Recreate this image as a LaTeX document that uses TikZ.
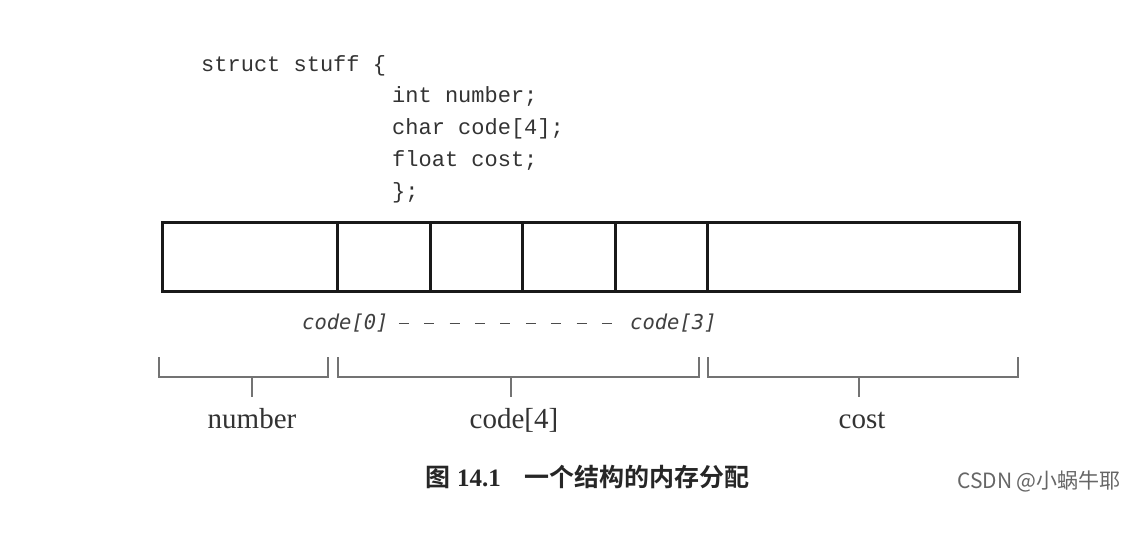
\documentclass[tikz,border=0pt]{standalone}
\usepackage{fontspec}
\setmainfont{Liberation Serif}
\setmonofont{Liberation Mono}
\newfontfamily\cjk{Noto Sans CJK SC}
\newfontfamily\cjkb{Noto Sans CJK SC}[BoldFont={Noto Sans CJK SC Bold}]
\newfontfamily\obl{DejaVu Sans Mono}
\begin{document}
\begin{tikzpicture}[x=1pt,y=-1pt,
  codetxt/.style={anchor=base west,inner sep=0pt,text=black!80,font=\fontsize{22}{22}\selectfont\ttfamily},
  cell/.style={draw=black!90,line width=2.6pt,inner sep=0pt,minimum height=69pt,anchor=north west},
  idx/.style={inner sep=0pt,anchor=base west,text=black!75,font=\fontsize{20.5}{20.5}\selectfont\obl\itshape},
  brk/.style={draw=black!55,line width=1.4pt},
  lbl/.style={inner sep=0pt,anchor=base,text=black!80,font=\fontsize{29}{29}\selectfont\rmfamily},
]
\useasboundingbox (0,0) rectangle (1144,548);
\fill[white] (0,0) rectangle (1144,548);
% code
\node[codetxt] (l1) at (201,72) {struct stuff \{};
\node[codetxt] (l2) at (392,103) {int number;};
\node[codetxt] (l3) at (392,135) {char code[4];};
\node[codetxt] (l4) at (392,167) {float cost;};
\node[codetxt] (l5) at (392,199) {\};};
% memory cells
\node[cell,minimum width=175pt] (c0) at (161,221) {};
\node[cell,minimum width=93pt] (c1) at (336,221) {};
\node[cell,minimum width=92pt] (c2) at (429,221) {};
\node[cell,minimum width=93pt] (c3) at (521,221) {};
\node[cell,minimum width=92pt] (c4) at (614,221) {};
\node[cell,minimum width=312pt] (c5) at (706,221) {};
% index labels
\node[idx] (i0) at (302,330) {code[0]};
\node[idx] (i3) at (630,330) {code[3]};
\draw[black!70,line width=1.6pt,dash pattern=on 10pt off 15.4pt] ([xshift=10pt]i0.east) -- ([xshift=-12pt]i3.west);
% brackets
\draw[brk] (159,357) -- (159,377) -- (328,377) -- (328,357);
\draw[brk] (338,357) -- (338,377) -- (699,377) -- (699,357);
\draw[brk] (708,357) -- (708,377) -- (1018,377) -- (1018,357);
\coordinate (t0) at (252,377);
\coordinate (t1) at (511,377);
\coordinate (t2) at (859,377);
\node[lbl] (n0) at (252,428) {number};
\node[lbl] (n1) at (514,428) {code[4]};
\node[lbl] (n2) at (862,428) {cost};
\draw[brk] (t0) -- (252,397);
\draw[brk] (t1) -- (511,397);
\draw[brk] (t2) -- (859,397);
% caption
\node[inner sep=0pt,anchor=base west,text=black!85] (cap) at (425,486)
  {{\fontsize{25}{25}\selectfont\cjkb\bfseries 图}\hspace{7pt}{\fontsize{25}{25}\selectfont\rmfamily\bfseries 14.1}\hspace{24pt}{\fontsize{25}{25}\selectfont\cjkb\bfseries 一个结构的内存分配}};
\node[inner sep=0pt,anchor=base east,text=black!60] (wm) at (1121,488)
  {\fontsize{21}{21}\selectfont\sffamily\cjk CSDN @小蜗牛耶};
\end{tikzpicture}
\end{document}
